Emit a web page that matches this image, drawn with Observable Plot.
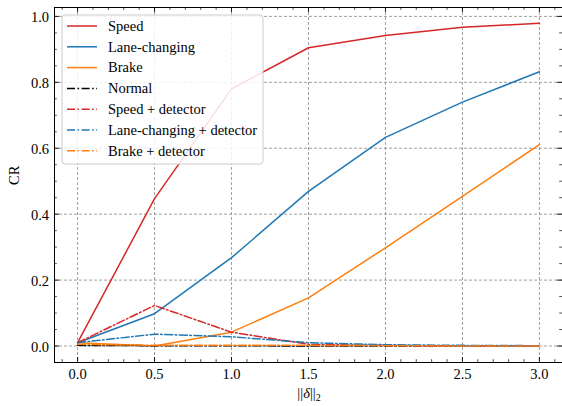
<!DOCTYPE html>
<html>
<head>
<meta charset="utf-8">
<script src="https://cdn.jsdelivr.net/npm/d3@7"></script>
<script src="https://cdn.jsdelivr.net/npm/@observablehq/plot@0.6"></script>
<style>
  html, body { margin: 0; padding: 0; background: #fff; }
  #chart svg { display: block; }
  #chart svg text { font-family: "Liberation Serif", "Times New Roman", "DejaVu Serif", serif; }
</style>
</head>
<body>
<div id="chart"></div>
<script>
// ---- data ----
const xs = [0, 0.5, 1.0, 1.5, 2.0, 2.5, 3.0];
const seriesNames = ["Speed", "Lane-changing", "Brake", "Normal", "Speed + detector", "Lane-changing + detector", "Brake + detector"];
const speed     = [0.010, 0.447, 0.780, 0.905, 0.942, 0.967, 0.979];
const lane      = [0.010, 0.098, 0.268, 0.469, 0.633, 0.740, 0.832];
const brake     = [0.010, 0.000, 0.042, 0.146, 0.298, 0.454, 0.611];
const normal    = [0.002, 0.001, 0.001, 0.000, 0.000, 0.000, 0.000];
const speedDet  = [0.010, 0.123, 0.042, 0.005, 0.002, 0.000, 0.000];
const laneDet   = [0.010, 0.036, 0.028, 0.010, 0.004, 0.002, 0.001];
const brakeDet  = [0.005, 0.002, 0.002, 0.002, 0.001, 0.000, 0.000];
const xTicks = [0, 0.5, 1.0, 1.5, 2.0, 2.5, 3.0];
const yTicks = [0, 0.2, 0.4, 0.6, 0.8, 1.0];

const seriesValues = [speed, lane, brake, normal, speedDet, laneDet, brakeDet];
const seriesColors = ["#d62728", "#1f77b4", "#ff7f0e", "#000000", "#d62728", "#1f77b4", "#ff7f0e"];
const seriesDash   = [null, null, null, "8,2.5,1.6,2.5", "8,2.5,1.6,2.5", "8,2.5,1.6,2.5", "8,2.5,1.6,2.5"];

const W = 562, H = 406;
const mL = 54, mR = 0, mT = 7, mB = 44;
const pw = W - mL - mR, ph = H - mT - mB;
const FS = 14.5;

const xMinor = d3.range(-0.1, 3.151, 0.1).map(v => +v.toFixed(2)).filter(v => Math.abs(v * 2 - Math.round(v * 2)) > 1e-6);
const yMinor = d3.range(-0.05, 1.03, 0.05).map(v => +v.toFixed(2)).filter(v => Math.abs(v * 5 - Math.round(v * 5)) > 1e-6);

const rows = [];
seriesNames.forEach((name, i) => xs.forEach((x, j) => rows.push({series: name, idx: i, x, y: seriesValues[i][j]})));

const lineMarks = seriesNames.map((name, i) =>
  Plot.line(rows.filter(r => r.idx === i), {
    x: "x", y: "y", stroke: seriesColors[i], strokeWidth: 1.5,
    strokeDasharray: seriesDash[i] ?? undefined
  })
);

const tickMarks = [
  Plot.tickX(xTicks, {x: d => d, insetTop: ph - 5, stroke: "#000", strokeWidth: 0.9}),
  Plot.tickX(xTicks, {x: d => d, insetBottom: ph - 5, stroke: "#000", strokeWidth: 0.9}),
  Plot.tickX(xMinor, {x: d => d, insetTop: ph - 2.8, stroke: "#000", strokeWidth: 0.7}),
  Plot.tickX(xMinor, {x: d => d, insetBottom: ph - 2.8, stroke: "#000", strokeWidth: 0.7}),
  Plot.tickY(yTicks, {y: d => d, insetRight: pw - 5, stroke: "#000", strokeWidth: 0.9}),
  Plot.tickY(yTicks, {y: d => d, insetLeft: pw - 5, stroke: "#000", strokeWidth: 0.9}),
  Plot.tickY(yMinor, {y: d => d, insetRight: pw - 2.8, stroke: "#000", strokeWidth: 0.7}),
  Plot.tickY(yMinor, {y: d => d, insetLeft: pw - 2.8, stroke: "#000", strokeWidth: 0.7}),
];

const plot = Plot.plot({
  width: W, height: H,
  marginLeft: mL, marginRight: mR, marginTop: mT, marginBottom: mB,
  style: {fontSize: FS + "px", background: "#fff", color: "#000"},
  x: {domain: [-0.15, 3.15]},
  y: {domain: [-0.05, 1.027]},
  marks: [
    Plot.ruleX(xTicks, {x: d => d, stroke: "#888", strokeWidth: 0.8, strokeDasharray: "3,2"}),
    Plot.ruleY(yTicks, {y: d => d, stroke: "#888", strokeWidth: 0.8, strokeDasharray: "3,2"}),
    ...lineMarks,
    ...tickMarks,
    Plot.frame({stroke: "#000", strokeWidth: 1}),
    Plot.axisX(xTicks, {tickSize: 0, tickPadding: 6, tickFormat: d3.format(".1f"), label: null, fontSize: FS}),
    Plot.axisY(yTicks, {tickSize: 0, tickPadding: 5.5, tickFormat: d3.format(".1f"), label: null, fontSize: FS, dy: 1}),
    Plot.text(["CR"], {frameAnchor: "left", dx: -40, rotate: -90, fontSize: FS, text: d => d})
  ]
});

document.getElementById("chart").appendChild(plot);

const svg = d3.select(plot);
// x label with italic delta and subscript
const cx = (mL + (W - mR)) / 2 + 1;
const xl = svg.append("text")
  .attr("x", cx).attr("y", 398)
  .attr("text-anchor", "middle")
  .attr("font-size", FS);
xl.append("tspan").text("||");
xl.append("tspan").attr("font-style", "italic").text("δ");
xl.append("tspan").text("||");
xl.append("tspan").attr("font-size", 10).attr("dy", 2.7).text("2");

// legend
const lg = svg.append("g");
lg.append("rect")
  .attr("x", 62).attr("y", 15).attr("width", 201).attr("height", 149)
  .attr("rx", 3).attr("fill", "#fff").attr("fill-opacity", 0.85)
  .attr("stroke", "#cccccc").attr("stroke-width", 1);
const rowY = [26, 46.8, 67.6, 88.4, 109.2, 130, 150.8];
seriesNames.forEach((name, i) => {
  lg.append("line")
    .attr("x1", 67).attr("x2", 97).attr("y1", rowY[i]).attr("y2", rowY[i])
    .attr("stroke", seriesColors[i]).attr("stroke-width", 1.5)
    .attr("stroke-dasharray", seriesDash[i]);
  lg.append("text")
    .attr("x", 108).attr("y", rowY[i]).attr("dy", "0.33em")
    .attr("text-anchor", "start")
    .attr("font-size", FS)
    .text(name);
});
</script>
</body>
</html>
